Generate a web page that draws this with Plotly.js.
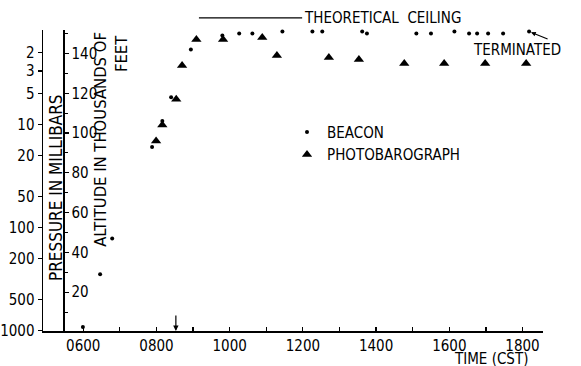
<!DOCTYPE html>
<html>
<head>
<meta charset="utf-8">
<script src="https://cdn.plot.ly/plotly-3.0.1.min.js"></script>
<style>html,body{margin:0;padding:0;background:#fff;}</style>
</head>
<body>
<div id="chart" style="width:581px;height:366px;"></div>
<script>
// Time in decimal hours (CST)
const beaconTime = [5.99, 6.46, 6.79, 7.88, 8.16, 8.40, 8.94, 9.80, 10.26, 10.62, 11.44, 12.26, 12.53, 13.62, 13.75, 15.10, 15.50, 16.14, 16.54, 16.76, 17.06, 17.47, 18.18];
// Altitude in thousands of feet
const beaconAlt = [2.5, 29, 47, 93, 106, 118, 142, 149, 150, 150, 151, 151, 151, 151, 150, 150, 150, 151, 150, 150, 150, 150, 151];

const photoTime = [7.99, 8.16, 8.54, 8.70, 9.09, 9.82, 10.89, 11.29, 12.71, 13.53, 14.77, 15.86, 16.98, 18.10];
const photoAlt = [96, 104, 117, 134, 147, 147, 148, 139, 138, 137, 135, 135, 135, 135];

const timeTickVals = [6, 7, 8, 9, 10, 11, 12, 13, 14, 15, 16, 17, 18];
const timeTickText = ['0600', '', '0800', '', '1000', '', '1200', '', '1400', '', '1600', '', '1800'];
const altTickVals = [20, 40, 60, 80, 100, 120, 140];
const altMinorVals = [10, 30, 50, 70, 90, 110, 130, 150];
const pressureTickVals = [2, 3, 5, 10, 20, 50, 100, 200, 500, 1000];
const pressureTickText = ['2', '3', '5', '10', '20', '50', '100', '200', '500', '1000'];

const ceilingStart = 9.16, ceilingEnd = 11.98;
const terminatedTime = 18.18, terminatedAlt = 151;
const terminatedLabelTime = 17.85, terminatedLabelAlt = 142;
const markerTime = 8.53;

const FONT = "'DejaVu Sans Condensed', 'Liberation Sans Narrow', 'Roboto Condensed', Roboto, sans-serif";

const traces = [
  {
    x: beaconTime, y: beaconAlt, type: 'scatter', mode: 'markers', name: 'BEACON',
    marker: {symbol: 'circle', size: 4, color: '#000'}, cliponaxis: false
  },
  {
    x: photoTime, y: photoAlt, type: 'scatter', mode: 'markers', name: 'PHOTOBAROGRAPH',
    marker: {symbol: 'triangle-up', size: 9, color: '#000'}, cliponaxis: false
  },
  {
    x: [5.5], y: [1000], yaxis: 'y2', type: 'scatter', mode: 'markers',
    marker: {opacity: 0}, showlegend: false, hoverinfo: 'skip'
  }
];

const layout = {
  width: 581, height: 366,
  margin: {l: 43, r: 38, t: 30, b: 35},
  paper_bgcolor: '#fff', plot_bgcolor: '#fff',
  font: {family: FONT, size: 15, color: '#000'},
  showlegend: true,
  legend: {
    x: 0.488, y: 0.715, xanchor: 'left', yanchor: 'top',
    font: {family: FONT, size: 15, color: '#000'},
    itemwidth: 30, bgcolor: 'rgba(0,0,0,0)', tracegroupgap: 0
  },
  xaxis: {
    range: [4.9, 18.56], showgrid: false, zeroline: false,
    showline: true, linecolor: '#000', linewidth: 1.5,
    tickmode: 'array', tickvals: timeTickVals, ticktext: timeTickText,
    ticks: 'inside', ticklen: 4, tickwidth: 1.2, tickcolor: '#000',
    tickfont: {family: FONT, size: 15}
  },
  yaxis: {
    range: [0.5, 151.8], showgrid: false, zeroline: false,
    anchor: 'free', position: 0.04, side: 'right',
    showline: true, linecolor: '#000', linewidth: 1.5,
    tickmode: 'array', tickvals: altTickVals,
    ticks: 'outside', ticklen: 4, tickwidth: 1.2, tickcolor: '#000',
    minor: {tickvals: altMinorVals, ticks: 'outside', ticklen: 3, tickcolor: '#000', tickwidth: 1},
    tickfont: {family: FONT, size: 15}
  },
  yaxis2: {
    type: 'log', range: [Math.log10(1015), Math.log10(1.2)],
    overlaying: 'y', anchor: 'x', side: 'left',
    showgrid: false, zeroline: false,
    showline: true, linecolor: '#000', linewidth: 1.5,
    tickmode: 'array', tickvals: pressureTickVals, ticktext: pressureTickText,
    ticks: 'outside', ticklen: 4, tickwidth: 1.2, tickcolor: '#000',
    tickfont: {family: FONT, size: 15}
  },
  shapes: [
    {type: 'line', xref: 'x', yref: 'paper', x0: ceilingStart, x1: ceilingEnd, y0: 1.04, y1: 1.04,
     line: {color: '#000', width: 1.2}}
  ],
  annotations: [
    {text: 'THEORETICAL  CEILING', xref: 'x', yref: 'paper', x: ceilingEnd, y: 1.04,
     xanchor: 'left', yanchor: 'middle', showarrow: false, font: {family: FONT, size: 15}},
    {text: 'TERMINATED', xref: 'x', yref: 'y', x: terminatedLabelTime, y: terminatedLabelAlt,
     xanchor: 'center', yanchor: 'middle', showarrow: false, font: {family: FONT, size: 15}},
    {text: '', xref: 'x', yref: 'y', x: terminatedTime, y: terminatedAlt,
     showarrow: true, ax: 20, ay: 8, arrowhead: 2, arrowsize: 0.8, arrowwidth: 1.2, arrowcolor: '#000', standoff: 2},
    {text: '', xref: 'x', yref: 'y', x: markerTime, y: 0.5,
     showarrow: true, ax: 0, ay: -17, arrowhead: 2, arrowsize: 0.9, arrowwidth: 1.2, arrowcolor: '#000'},
    {text: 'PRESSURE IN MILLIBARS', xref: 'paper', yref: 'paper', x: 0.026, y: 0.475,
     xanchor: 'center', yanchor: 'middle', textangle: -90, showarrow: false, font: {family: FONT, size: 17}},
    {text: 'ALTITUDE IN THOUSANDS OF', xref: 'paper', yref: 'paper', x: 0.116, y: 0.635,
     xanchor: 'center', yanchor: 'middle', textangle: -90, showarrow: false, font: {family: FONT, size: 16.5}},
    {text: 'FEET', xref: 'paper', yref: 'paper', x: 0.156, y: 0.92,
     xanchor: 'center', yanchor: 'middle', textangle: -90, showarrow: false, font: {family: FONT, size: 16.5}},
    {text: 'TIME (CST)', xref: 'paper', yref: 'paper', x: 0.895, y: -0.127,
     xanchor: 'center', yanchor: 'bottom', borderpad: 0, showarrow: false, font: {family: FONT, size: 15}}
  ]
};

Plotly.newPlot('chart', traces, layout, {displayModeBar: false, staticPlot: true});
</script>
</body>
</html>
